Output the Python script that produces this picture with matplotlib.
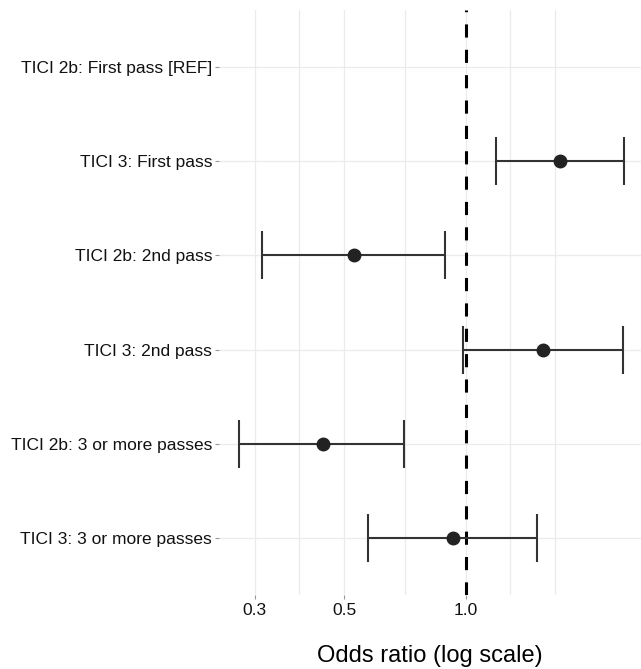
import matplotlib.pyplot as plt
import numpy as np
from matplotlib.ticker import FixedLocator, NullFormatter

plt.rcParams['font.family'] = ['Liberation Sans', 'DejaVu Sans']

# rows, top to bottom
labels = ["TICI 2b: First pass [REF]", "TICI 3: First pass", "TICI 2b: 2nd pass",
          "TICI 3: 2nd pass", "TICI 2b: 3 or more passes", "TICI 3: 3 or more passes"]
odds = [np.nan, 1.71, 0.529, 1.55, 0.442, 0.930]
lower = [np.nan, 1.19, 0.312, 0.985, 0.274, 0.573]
upper = [np.nan, 2.47, 0.890, 2.46, 0.702, 1.50]
xticks = [0.3, 0.5, 1.0]
xtick_labels = ["0.3", "0.5", "1.0"]
minor_grid = [0.387, 0.707, 1.29, 1.667]

fig = plt.figure(figsize=(6.41, 6.69), dpi=100)
ax = fig.add_axes([219 / 641, 74 / 669, 1 - 219 / 641, 585 / 669])

n = len(labels)
ypos = np.arange(n)[::-1]

ax.set_xscale('log')
ax.set_xlim(0.2446, 2.719)
ax.set_ylim(-0.6, n - 0.4)

# grid
for g in xticks + minor_grid:
    ax.axvline(g, color='#ebebeb', lw=0.9, zorder=0)
for y in ypos:
    ax.axhline(y, color='#ebebeb', lw=0.9, zorder=0)

ax.axvline(1.0, color='black', lw=2.2, linestyle=(0, (4.3, 4.0)), zorder=1)

o = np.array(odds)
lo = np.array(lower)
hi = np.array(upper)
ok = ~np.isnan(o)
ax.errorbar(o[ok], ypos[ok], xerr=[o[ok] - lo[ok], hi[ok] - o[ok]], fmt='none',
            ecolor='#333333', elinewidth=1.5, capsize=17, capthick=1.5, zorder=2)
ax.plot(o[ok], ypos[ok], 'o', color='#222222', markersize=9, zorder=3)

ax.xaxis.set_major_locator(FixedLocator(xticks))
ax.xaxis.set_minor_locator(FixedLocator([]))
ax.xaxis.set_minor_formatter(NullFormatter())
ax.set_xticks(xticks, xtick_labels)
ax.set_yticks(ypos, labels)

ax.tick_params(axis='x', length=3, width=0.8, color='#999999', labelsize=12.5,
               labelcolor='#111111', pad=3)
ax.tick_params(axis='y', length=3, width=0.8, color='#999999', labelsize=12.5,
               labelcolor='#111111', pad=2)
for s in ax.spines.values():
    s.set_visible(False)

ax.set_xlabel("Odds ratio (log scale)", fontsize=17, labelpad=19, color='black')

plt.savefig("out.png", dpi=100)
